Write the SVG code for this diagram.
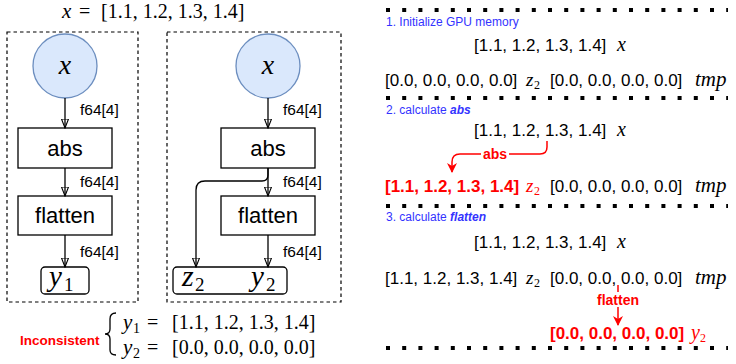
<svg xmlns="http://www.w3.org/2000/svg" width="736" height="364" viewBox="0 0 736 364">
<style>
.box{fill:#fff;stroke:#000;stroke-width:1.3}
.dash{fill:none;stroke:#000;stroke-width:1.2;stroke-dasharray:3.5 3}
.edge{fill:none;stroke:#000;stroke-width:1.3}
.redge{fill:none;stroke:#ff0000;stroke-width:1.5}
.lbl{font-family:"Liberation Sans",Arial,sans-serif;font-size:15.5px;fill:#000}
.nt{font-family:"Liberation Sans",Arial,sans-serif;font-size:22px;text-anchor:middle;fill:#000}
.m{font-family:"Liberation Serif","Times New Roman",serif;font-style:italic;fill:#000}
.r{font-family:"Liberation Serif","Times New Roman",serif;fill:#000}
.arr{font-family:"Liberation Sans",Arial,sans-serif;font-size:17px;fill:#000}
.bold{font-weight:bold}
.step{font-family:"Liberation Sans",Arial,sans-serif;font-size:12px;fill:#3333ff}
.dot{stroke:#000;stroke-width:4;stroke-dasharray:4 12.2}
.red{fill:#ff0000}
.rlbl{font-family:"Liberation Sans",Arial,sans-serif;font-size:14px;font-weight:bold;fill:#ff0000;text-anchor:middle}
</style>
<defs>
<marker id="ah" viewBox="0 0 10 8" refX="9.5" refY="4" markerWidth="10" markerHeight="8" markerUnits="userSpaceOnUse" orient="auto">
<path d="M0.5,0.5 L9.5,4 L0.5,7.5 Z" fill="none" stroke="#000" stroke-width="1.1"/>
</marker>
<marker id="rah" viewBox="0 0 10 10" refX="9" refY="5" markerWidth="10" markerHeight="10" markerUnits="userSpaceOnUse" orient="auto">
<path d="M0,0 L10,5 L0,10 L3,5 Z" fill="#ff0000"/>
</marker>
</defs>

<!-- top formula -->
<g id="formula-top">
<text class="m" x="62" y="18" font-size="21">x</text>
<text class="r" x="79" y="18" font-size="20">=</text>
<text class="r" x="101" y="18" font-size="20">[1.1, 1.2, 1.3, 1.4]</text>
</g>

<!-- left panel -->
<g id="panel-left">
<rect class="dash" x="7" y="32" width="131" height="270"/>
</g>
<g id="x-left">
<circle cx="65" cy="66" r="32" fill="#dae8fc" stroke="#6c8ebf" stroke-width="1.3"/>
<text class="m" x="65" y="74" font-size="28" text-anchor="middle">x</text>
</g>
<g id="abs-left">
<rect class="box" x="18" y="128" width="94" height="40"/>
<text class="nt" x="65" y="156">abs</text>
</g>
<g id="flatten-left">
<rect class="box" x="18" y="196" width="94" height="39"/>
<text class="nt" x="65" y="223">flatten</text>
</g>
<g id="y1-left">
<rect class="box" x="41" y="267" width="48" height="27" rx="4"/>
<text class="m" x="49" y="286" font-size="29">y</text>
<text class="r" x="64" y="291" font-size="19">1</text>
</g>

<!-- right panel -->
<g id="panel-right">
<rect class="dash" x="167" y="32" width="174" height="270"/>
</g>
<g id="x-right">
<circle cx="268" cy="66" r="32" fill="#dae8fc" stroke="#6c8ebf" stroke-width="1.3"/>
<text class="m" x="268" y="74" font-size="28" text-anchor="middle">x</text>
</g>
<g id="abs-right">
<rect class="box" x="221" y="128" width="94" height="40"/>
<text class="nt" x="268" y="156">abs</text>
</g>
<g id="flatten-right">
<rect class="box" x="221" y="196" width="94" height="39"/>
<text class="nt" x="268" y="223">flatten</text>
</g>
<g id="z2y2-right">
<rect class="box" x="173" y="267" width="114" height="27" rx="4"/>
<text class="m" x="182" y="286" font-size="30">z</text>
<text class="r" x="195" y="291" font-size="19">2</text>
<text class="m" x="251" y="286" font-size="29">y</text>
<text class="r" x="266" y="291" font-size="19">2</text>
</g>

<!-- connectors -->
<g id="connectors">
<line class="edge" x1="65" y1="98" x2="65" y2="128" marker-end="url(#ah)"/>
<line class="edge" x1="65" y1="168" x2="65" y2="196" marker-end="url(#ah)"/>
<line class="edge" x1="65" y1="235" x2="65" y2="267" marker-end="url(#ah)"/>
<line class="edge" x1="268" y1="98" x2="268" y2="128" marker-end="url(#ah)"/>
<line class="edge" x1="268" y1="168" x2="268" y2="196" marker-end="url(#ah)"/>
<line class="edge" x1="268" y1="235" x2="268" y2="267" marker-end="url(#ah)"/>
<path class="edge" d="M268,168 L268,175 Q268,181 262,181 L205,181 Q196,181 196,190 L196,267" marker-end="url(#ah)"/>
<text class="lbl" x="80" y="115">f64[4]</text>
<text class="lbl" x="80" y="187">f64[4]</text>
<text class="lbl" x="80" y="257">f64[4]</text>
<text class="lbl" x="283" y="115">f64[4]</text>
<text class="lbl" x="283" y="187">f64[4]</text>
<text class="lbl" x="283" y="257">f64[4]</text>
</g>

<!-- inconsistent -->
<g id="inconsistent">
<text x="20" y="345" font-family="'Liberation Sans',Arial,sans-serif" font-size="13.5" font-weight="bold" fill="#ff0000">Inconsistent</text>
<path d="M116,313 Q110,313 110,319 L110,329 Q110,334 105,334 Q110,334 110,339 L110,350 Q110,355 116,355" fill="none" stroke="#000" stroke-width="1.3"/>
<text class="m" x="123" y="329" font-size="21">y</text>
<text class="r" x="133" y="333" font-size="14">1</text>
<text class="r" x="147" y="329" font-size="20">=</text>
<text class="r" x="172" y="329" font-size="20">[1.1, 1.2, 1.3, 1.4]</text>
<text class="m" x="123" y="354" font-size="21">y</text>
<text class="r" x="133" y="358" font-size="14">2</text>
<text class="r" x="147" y="354" font-size="20">=</text>
<text class="r" x="172" y="354" font-size="20">[0.0, 0.0, 0.0, 0.0]</text>
</g>

<!-- right memory view -->
<g id="memory">
<line class="dot" x1="386" y1="10" x2="728" y2="10"/>
<line class="dot" x1="386" y1="98" x2="728" y2="98"/>
<line class="dot" x1="386" y1="206" x2="728" y2="206"/>
<line class="dot" x1="386" y1="348" x2="728" y2="348"/>

<text class="step" x="386" y="26">1. Initialize GPU memory</text>
<text class="arr" x="474" y="51">[1.1, 1.2, 1.3, 1.4]</text>
<text class="m" x="617" y="51" font-size="20">x</text>
<text class="arr" x="385" y="86">[0.0, 0.0, 0.0, 0.0]</text>
<text class="m" x="526" y="86" font-size="19">z</text>
<text class="r" x="534" y="89" font-size="12">2</text>
<text class="arr" x="550" y="86">[0.0, 0.0, 0.0, 0.0]</text>
<text class="m" x="695" y="86" font-size="21">tmp</text>

<text class="step" x="386" y="114">2. calculate <tspan font-weight="bold" font-style="italic">abs</tspan></text>
<text class="arr" x="474" y="136">[1.1, 1.2, 1.3, 1.4]</text>
<text class="m" x="617" y="136" font-size="20">x</text>
<path class="redge" d="M547,141 L547,147 Q547,154 540,154 L460,154 Q452,154 452,162 L452,172" marker-end="url(#rah)"/>
<rect x="481" y="146" width="28" height="15" fill="#fff"/>
<text class="rlbl" x="495" y="159">abs</text>
<text class="arr bold red" x="385" y="192">[1.1, 1.2, 1.3, 1.4]</text>
<text class="m red" x="526" y="192" font-size="19">z</text>
<text class="r red" x="534" y="195" font-size="12">2</text>
<text class="arr" x="550" y="192">[0.0, 0.0, 0.0, 0.0]</text>
<text class="m" x="695" y="192" font-size="21">tmp</text>

<text class="step" x="386" y="221">3. calculate <tspan font-weight="bold" font-style="italic">flatten</tspan></text>
<text class="arr" x="474" y="248">[1.1, 1.2, 1.3, 1.4]</text>
<text class="m" x="617" y="248" font-size="20">x</text>
<text class="arr" x="385" y="284">[1.1, 1.2, 1.3, 1.4]</text>
<text class="m" x="526" y="284" font-size="19">z</text>
<text class="r" x="534" y="287" font-size="12">2</text>
<text class="arr" x="550" y="284">[0.0, 0.0, 0.0, 0.0]</text>
<text class="m" x="695" y="284" font-size="21">tmp</text>
<line class="redge" x1="618" y1="285" x2="618" y2="325" marker-end="url(#rah)"/>
<rect x="595" y="292" width="46" height="15" fill="#fff"/>
<text class="rlbl" x="618" y="305">flatten</text>
<text class="arr bold red" x="550" y="339">[0.0, 0.0, 0.0, 0.0]</text>
<text class="m red" x="691" y="339" font-size="20">y</text>
<text class="r red" x="700" y="342" font-size="12">2</text>
</g>
</svg>
